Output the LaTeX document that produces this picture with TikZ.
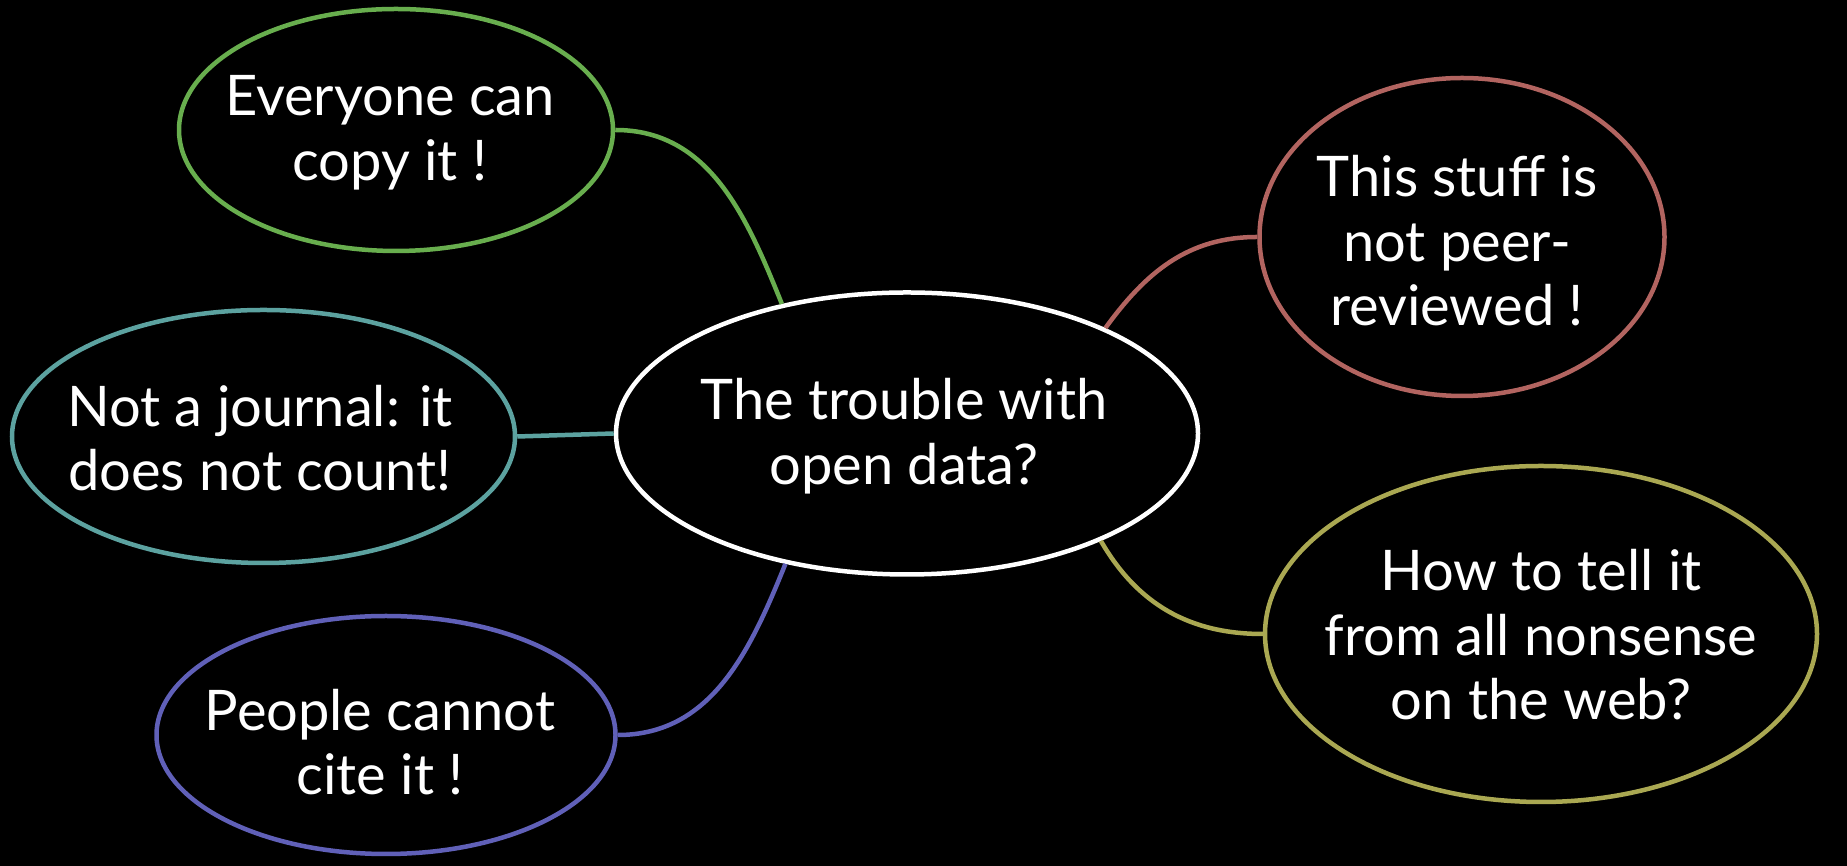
\documentclass[tikz,border=0pt]{standalone}
\usepackage{fontspec}
\setmainfont{Lato}
\usetikzlibrary{shapes.geometric}
\definecolor{mapgreen}{RGB}{104,174,78}
\definecolor{mapteal}{RGB}{92,162,160}
\definecolor{mapblue}{RGB}{96,96,184}
\definecolor{mapred}{RGB}{178,100,96}
\definecolor{mapolive}{RGB}{170,168,82}
\begin{document}
\begin{tikzpicture}[x=1pt,y=1pt,
  bubble/.style={ellipse, draw, line width=4.5pt, fill=black, inner sep=0pt},
  words/.style={text=white, inner sep=0pt, align=center,
    font=\fontsize{56}{64.5}\selectfont},
  link/.style={line width=4.5pt}]
% page frame with black backdrop
\useasboundingbox (0,0) rectangle (1847,866);
\fill[black] (0,0) rectangle (1847,866);

% central topic
\node[bubble, draw=white, minimum width=582pt, minimum height=282pt]
  (c) at (907,432.5) {};
\node[words] (c-t) at (904,430) {The trouble with\\open data?};

% branches on the left
\node[bubble, draw=mapgreen, minimum width=434pt, minimum height=242pt]
  (e) at (396,736) {};
\node[words] (e-t) at (390,733) {Everyone can\\copy it !};

\node[bubble, draw=mapteal, minimum width=503pt, minimum height=253pt]
  (j) at (263.5,429.5) {};
\node[words] (j-t) at (260,428) {Not a journal: it\\does not count!};

\node[bubble, draw=mapblue, minimum width=459pt, minimum height=238pt]
  (p) at (386,131) {};
\node[words] (p-t) at (380,124) {People cannot\\cite it !};

% branches on the right
\node[bubble, draw=mapred, minimum width=405pt, minimum height=318pt]
  (s) at (1462,629) {};
\node[words] (s-t) at (1457,625) {This stuff is\\not peer-\\reviewed !};

\node[bubble, draw=mapolive, minimum width=552pt, minimum height=336pt]
  (h) at (1541,232) {};
\node[words] (h-t) at (1541,231) {How to tell it\\from all nonsense\\on the web?};

% connectors
\draw[link, mapgreen] (e.east) to[out=0, in=112] (c.134);
\draw[link, mapteal] (j.east) -- (c.west);
\draw[link, mapblue] (p.east) to[out=0, in=-112] (c.227);
\draw[link, mapred] (s.west) to[out=180, in=54] (c.28);
\draw[link, mapolive] (c.-29) to[out=-60, in=180] (h.west);
\end{tikzpicture}
\end{document}
